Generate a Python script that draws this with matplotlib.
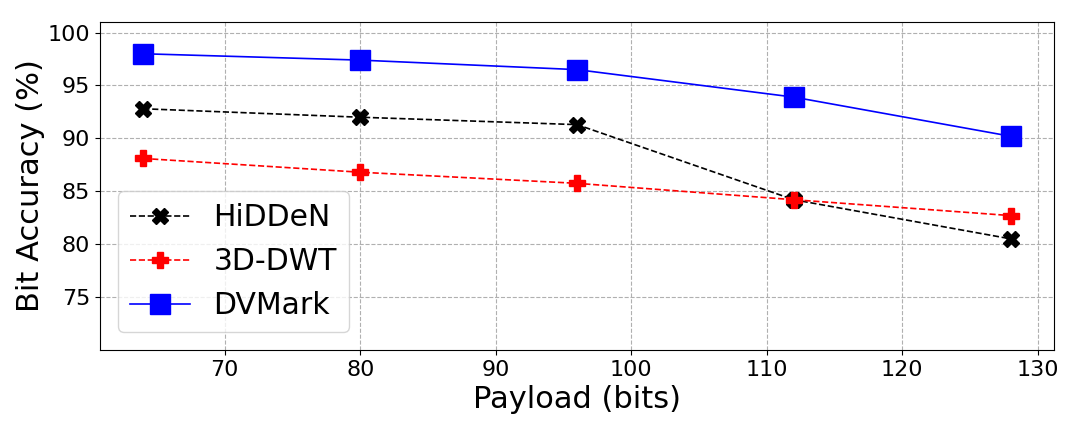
import matplotlib
matplotlib.use("Agg")
import matplotlib.pyplot as plt

# payload sizes (bits)
payload = [64, 80, 96, 112, 128]

# bit accuracy (%)
hidden_acc = [92.8, 92.0, 91.3, 84.2, 80.5]
dwt_acc = [88.1, 86.8, 85.75, 84.2, 82.7]
dvmark_acc = [98.0, 97.4, 96.5, 93.9, 90.2]

fig, ax = plt.subplots(figsize=(10.8, 4.32), dpi=100)

ax.plot(payload, hidden_acc, color="black", linestyle="--", marker="X",
        markersize=12, linewidth=1.2, label="HiDDeN")
ax.plot(payload, dwt_acc, color="red", linestyle="--", marker="P",
        markersize=11, linewidth=1.2, label="3D-DWT")
ax.plot(payload, dvmark_acc, color="blue", linestyle="-", marker="s",
        markersize=14, linewidth=1.2, label="DVMark")

ax.set_ylim(70, 101)
ax.set_yticks([75, 80, 85, 90, 95, 100])
ax.grid(True, linestyle="--", color="#b0b0b0", linewidth=0.8)
ax.tick_params(labelsize=16)
ax.set_xlabel("Payload (bits)", fontsize=22)
ax.set_ylabel("Bit Accuracy (%)", fontsize=22, labelpad=2)
ax.legend(fontsize=21.5, loc="lower left", borderaxespad=0.6)

fig.subplots_adjust(left=0.0926, right=0.976, top=0.949, bottom=0.19)
fig.savefig("out.png")
